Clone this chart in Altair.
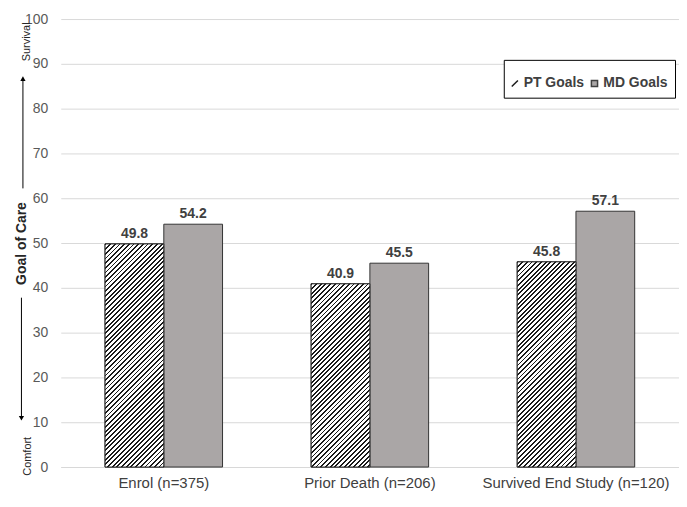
import altair as alt
import pandas as pd

categories = ["Enrol (n=375)", "Prior Death (n=206)", "Survived End Study (n=120)"]
series = ["PT Goals", "MD Goals"]
pt_values = [49.8, 40.9, 45.8]
md_values = [54.2, 45.5, 57.1]
y_ticks = list(range(0, 101, 10))
ann_text = ["Survival", "Comfort"]
ann_y = [94.9, 2.4]
arrow_up = [62.2, 86.7]
arrow_down = [37.8, 10.9]

W, H = 621, 450
PAD_IN, PAD_OUT = 0.43, 0.215

rows = []
for c, p, m in zip(categories, pt_values, md_values):
    rows.append({"category": c, "series": series[0], "value": p})
    rows.append({"category": c, "series": series[1], "value": m})
df = pd.DataFrame(rows)

step = W / (len(categories) - PAD_IN + 2 * PAD_OUT)
bar_w = step * (1 - PAD_IN) / 2


def hatch(w, h, P=4.7, frac=0.4):
    L = w + h
    k = L / (w * w + h * h)
    stops = []
    n = int(L / P) + 1
    for i in range(n + 1):
        a = i * P / L
        b = (i * P + frac * P) / L
        c = (i + 1) * P / L
        for off, col in [(a, "#1a1a1a"), (b, "#1a1a1a"), (b, "#ffffff"), (c, "#ffffff")]:
            if off <= 1:
                stops.append({"offset": off, "color": col})
    return {"gradient": "linear", "x1": 0, "y1": 0, "x2": w * k, "y2": h * k, "stops": stops}


x_enc = alt.X("category:N", sort=categories,
              scale=alt.Scale(paddingInner=PAD_IN, paddingOuter=PAD_OUT),
              axis=alt.Axis(title=None, labelAngle=0, ticks=False, domainColor="#d9d9d9",
                            labelPadding=9, labelFontSize=15, labelColor="#404040",
                            labelLimit=400))
xo_enc = alt.XOffset("series:N", sort=series, scale=alt.Scale(paddingInner=0, paddingOuter=0))
y_enc = alt.Y("value:Q", scale=alt.Scale(domain=[0, 100]),
              axis=alt.Axis(values=y_ticks, title="Goal of Care", domain=False, ticks=False,
                            gridColor="#d9d9d9", labelColor="#595959", labelFontSize=14,
                            labelPadding=13, titleFontSize=14, titleFontWeight="bold",
                            titleColor="#262626", titleX=-39.5, titleY=225, titleAngle=270,
                            titleAlign="center", titleBaseline="middle"))
fill_enc = alt.Fill("series:N", sort=series,
                    scale=alt.Scale(domain=series, range=["#ffffff", "#aaa6a6"]),
                    legend=alt.Legend(title=None))
stroke_enc = alt.Stroke("series:N", sort=series,
                        scale=alt.Scale(domain=series, range=["#1a1a1a", "#404040"]),
                        legend=alt.Legend(title=None))
shape_enc = alt.Shape("series:N", sort=series,
                      scale=alt.Scale(domain=series,
                                      range=["M-1,0.2L-0.6,-0.2", "M-1,-0.2H-0.6V0.2H-1Z"]),
                      legend=alt.Legend(title=None))

base = alt.Chart(df)

bars = base.mark_bar(stroke="#333333", strokeWidth=1).encode(
    x=x_enc, xOffset=xo_enc, y=y_enc, fill=fill_enc)

hatch_layers = []
for c, p in zip(categories, pt_values):
    h = p / 100 * H
    hatch_layers.append(
        base.transform_filter((alt.datum.series == series[0]) & (alt.datum.category == c))
        .mark_bar(fill=hatch(bar_w, h), stroke="#262626", strokeWidth=1)
        .encode(x=x_enc, xOffset=xo_enc, y=y_enc)
    )

legend_pts = base.mark_point(filled=True, size=0, strokeWidth=1.2).encode(
    x=x_enc, xOffset=xo_enc, y=y_enc, fill=fill_enc, stroke=stroke_enc, shape=shape_enc)

labels = base.mark_text(dy=-10, fontSize=14, fontWeight="bold", color="#404040").encode(
    x=x_enc, xOffset=xo_enc, y=y_enc, text=alt.Text("value:Q", format=".1f"))

arrows_df = pd.DataFrame({"y": [arrow_up[0], arrow_down[0]], "y2": [arrow_up[1], arrow_down[1]],
                          "xp": [-38, -39.5]})
arrow_lines = alt.Chart(arrows_df).mark_rule(color="#000000", strokeWidth=1).encode(
    x=alt.X("xp:Q", scale=None), y=alt.Y("y:Q"), y2="y2:Q")

up_df = pd.DataFrame({"y": [arrow_up[1]], "xp": [-38]})
down_df = pd.DataFrame({"y": [arrow_down[1]], "xp": [-39.5]})
head_up = alt.Chart(up_df).mark_point(filled=True, color="#000000", size=28, opacity=1,
                                      shape="triangle-up").encode(
    x=alt.X("xp:Q", scale=None), y=alt.Y("y:Q"))
head_down = alt.Chart(down_df).mark_point(filled=True, color="#000000", size=28, opacity=1,
                                          shape="triangle-down").encode(
    x=alt.X("xp:Q", scale=None), y=alt.Y("y:Q"))

ann_df = pd.DataFrame({"t": ann_text, "y": ann_y, "xp": [-34, -33]})
ann = alt.Chart(ann_df).mark_text(angle=270, fontSize=11, color="#262626", baseline="middle",
                                  align="center").encode(
    x=alt.X("xp:Q", scale=None), y=alt.Y("y:Q"), text="t:N")

chart = alt.layer(bars, *hatch_layers, legend_pts, labels, arrow_lines, head_up, head_down, ann).properties(
    width=W, height=H, autosize="none",
    padding={"left": 53, "top": 10, "right": 0, "bottom": 25},
).configure(font="Liberation Sans").configure_view(
    stroke=None).configure_legend(
    orient="none", legendX=445, legendY=41, direction="horizontal", strokeColor="#000000",
    fillColor="#ffffff", padding=7, labelFontSize=14, labelFontWeight="bold",
    labelColor="#404040", symbolSize=961, columnPadding=4, symbolOpacity=1,
    labelOffset={"expr": "-20"})

chart.save("out.html", embed_options={"renderer": "svg", "actions": False})
